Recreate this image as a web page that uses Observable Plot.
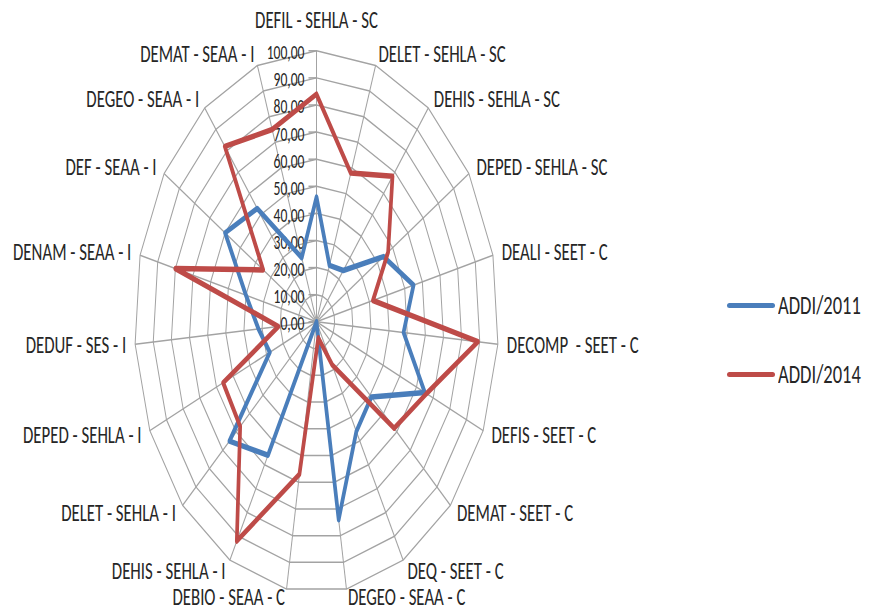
<!DOCTYPE html>
<html>
<head>
<meta charset="utf-8">
<script src="https://cdn.jsdelivr.net/npm/d3@7"></script>
<script src="https://cdn.jsdelivr.net/npm/@observablehq/plot@0.6"></script>
<style>
  body { margin: 0; background: #fff; }
  #wrap {
    position: relative; width: 869px; height: 612px; overflow: hidden;
    font-family: Carlito, Calibri, "Liberation Sans", Arial, sans-serif;
  }
  .leg { position: absolute; left: 727px; height: 30px; display: flex; align-items: center; }
  .leg .sw { width: 48px; height: 5px; border-radius: 2.5px; }
  .leg .t { display: inline-block; margin-left: 3px; font-size: 18.5px; color: #262626; line-height: 20px;
            transform: scaleY(1.4891); transform-origin: 0 50%; }
</style>
</head>
<body>
<div id="wrap"></div>
<script>
const categories = [
  "DEFIL - SEHLA - SC", "DELET - SEHLA - SC", "DEHIS - SEHLA - SC", "DEPED - SEHLA - SC",
  "DEALI - SEET - C", "DECOMP  - SEET - C", "DEFIS - SEET - C", "DEMAT - SEET - C",
  "DEQ - SEET - C", "DEGEO - SEAA - C", "DEBIO - SEAA - C", "DEHIS - SEHLA - I",
  "DELET - SEHLA - I", "DEPED - SEHLA - I", "DEDUF - SES - I", "DENAM - SEAA - I",
  "DEF - SEAA - I", "DEGEO - SEAA - I", "DEMAT - SEAA - I"
];
const addi2011 = [46, 22, 24, 44, 55, 48, 65, 41, 46, 74, 0, 56, 65, 28, 32, 40, 60, 53, 25];
const addi2014 = [84, 58, 68, 47, 32, 89, 66, 58, 18, 6, 57, 92, 57, 56, 21, 80, 35, 82, 75];
const levels = [0, 10, 20, 30, 40, 50, 60, 70, 80, 90, 100];
const tickLabels = ["0,00", "10,00", "20,00", "30,00", "40,00", "50,00", "60,00", "70,00", "80,00", "90,00", "100,00"];
const seriesNames = ["ADDI/2011", "ADDI/2014"];
const seriesColors = ["#4a7ebb", "#be4b48"];

const N = categories.length;
const ang = i => i * 2 * Math.PI / N;
const polar = (v, i) => ({ x: v * Math.sin(ang(i)), y: v * Math.cos(ang(i)) });
const pxPerUnit = 1.82;

const rings = levels.filter(l => l > 0).flatMap(l => categories.map((c, i) => ({ level: l, ...polar(l, i) })));
const spokes = categories.map((c, i) => {
  const s = Math.sin(ang(i)), co = Math.cos(ang(i));
  const lx = s * (100 + 9 / pxPerUnit);
  const off = co < -0.95 ? 5.5 : 8;
  const ly = i === 0 ? 100 + 21 / pxPerUnit : co * (100 + off / pxPerUnit);
  return { ...polar(100, i), lx, ly, label: c, side: Math.abs(s) < 0.01 ? "m" : (s > 0 ? "r" : "l") };
});
const seriesData = [addi2011, addi2014].flatMap((arr, k) =>
  arr.map((v, i) => ({ series: seriesNames[k], value: v, ...polar(v, i) })));
const tickData = levels.map((l, i) => ({ level: l, label: tickLabels[i] }));

const grid = "#a3a3a3";
const txt = "#262626";
const W = 869, H = 411, HF = 612;

const chart = Plot.plot({
  width: W, height: H,
  marginLeft: 134, marginRight: 371, marginTop: 33.6, marginBottom: 13.4,
  x: { domain: [-100, 100], axis: null },
  y: { domain: [-100, 100], axis: null },
  color: { domain: seriesNames, range: seriesColors },
  style: { fontFamily: "Carlito, Calibri, 'Liberation Sans', Arial, sans-serif", background: "transparent", overflow: "visible" },
  marks: [
    Plot.link(spokes, { x1: 0, y1: 0, x2: "x", y2: "y", stroke: grid, strokeWidth: 1 }),
    Plot.line(rings, { x: "x", y: "y", z: "level", curve: "linear-closed", stroke: grid, strokeWidth: 1 }),
    Plot.link(tickData, { x1: 0, x2: -4.4, y1: "level", y2: "level", stroke: grid, strokeWidth: 1 }),
    Plot.text(tickData, { x: 0, y: "level", text: "label", textAnchor: "end", dx: -12, dy: 1.3, fontSize: 13.6, fill: txt }),
    Plot.line(seriesData, { x: "x", y: "y", z: "series", stroke: "series", curve: "linear-closed", strokeWidth: 3.7, strokeLinejoin: "round" }),
    Plot.text(spokes, { filter: d => d.side === "r", x: "lx", y: "ly", text: "label", textAnchor: "start", fontSize: 16.8, fill: txt }),
    Plot.text(spokes, { filter: d => d.side === "l", x: "lx", y: "ly", text: "label", textAnchor: "end", fontSize: 16.8, fill: txt }),
    Plot.text(spokes, { filter: d => d.side === "m", x: "lx", y: "ly", text: "label", textAnchor: "middle", fontSize: 16.8, fill: txt })
  ]
});

chart.setAttribute("preserveAspectRatio", "none");
chart.setAttribute("width", W);
chart.setAttribute("height", HF);
chart.style.width = W + "px";
chart.style.height = HF + "px";
chart.style.maxWidth = "none";
chart.style.display = "block";

const wrap = document.getElementById("wrap");
wrap.appendChild(chart);

const legendCenters = [305, 374];
seriesNames.forEach((name, k) => {
  const item = document.createElement("div");
  item.className = "leg";
  item.style.top = (legendCenters[k] - 15) + "px";
  const sw = document.createElement("span");
  sw.className = "sw";
  sw.style.background = seriesColors[k];
  const t = document.createElement("span");
  t.className = "t";
  t.textContent = name;
  item.appendChild(sw);
  item.appendChild(t);
  wrap.appendChild(item);
});
</script>
</body>
</html>
